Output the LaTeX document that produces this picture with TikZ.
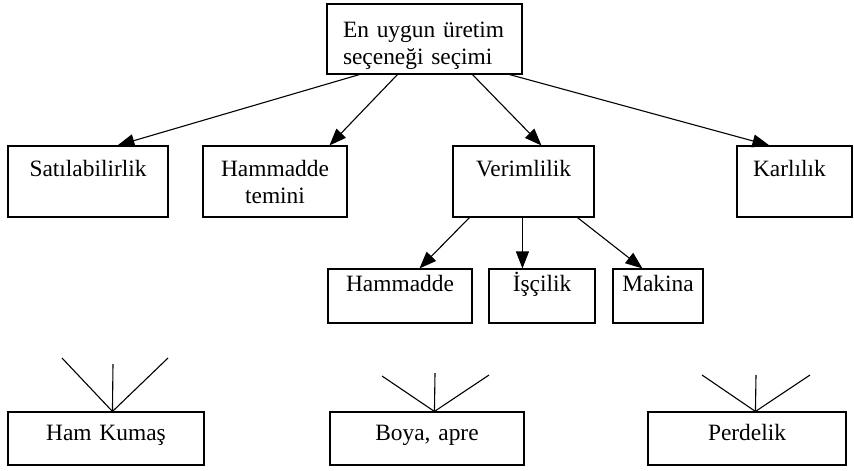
\documentclass[tikz,border=0pt]{standalone}
\usepackage{fontspec}
\setmainfont{Liberation Serif}
\usetikzlibrary{arrows.meta}

\begin{document}
\begin{tikzpicture}[x=1pt,y=1pt]
\tikzstyle{every node}+=[inner sep=0pt, font=\fontsize{23.4}{27.5}\selectfont]
\tikzstyle{kutu}=[draw, black, line width=1.1pt, align=center]
\tikzstyle{ust}=[text height=30pt, text depth=41pt]
\tikzstyle{alt}=[text height=22pt, text depth=32pt]
\tikzstyle{son}=[text height=28pt, text depth=25pt]
\tikzstyle{ok}=[black, line width=1.1pt, -{Triangle[length=17pt,width=13pt]}]
\tikzstyle{cizgi}=[black, line width=1.1pt]
\useasboundingbox (0,0) rectangle (854,-471);
% ana kutu
\node [kutu, align=left, inner xsep=16pt, text width=163pt, text height=33pt, text depth=37pt] (secim) at (424.5,-39) {En uygun üretim\\seçeneği seçimi};
% ikinci sira
\node [kutu, ust, text width=160pt] (sat) at (88,-181.5) {Satılabilirlik};
\node [kutu, ust, text width=144pt] (tem) at (275,-181.5) {Hammadde\\temini};
\node [kutu, ust, text width=141pt] (ver) at (523.5,-181.5) {Verimlilik};
\node [kutu, ust, align=left, inner xsep=16pt, text width=83pt] (kar) at (794.5,-181.5) {Karlılık};
\draw [ok] ([xshift=33pt]secim.south west) -- ([xshift=110pt]sat.north west);
\draw [ok] ([xshift=71pt]secim.south west) -- ([xshift=127pt]tem.north west);
\draw [ok] ([xshift=146pt]secim.south west) -- ([xshift=89pt]ver.north west);
\draw [ok] ([xshift=183pt]secim.south west) -- ([xshift=33pt]kar.north west);
% verimlilik alt kutulari
\node [kutu, alt, text width=144pt] (ham) at (400,-296) {Hammadde};
\node [kutu, alt, text width=106pt] (isc) at (542,-296) {İşçilik};
\node [kutu, alt, text width=90pt] (mak) at (658,-296) {Makina};
\draw [ok] ([xshift=17pt]ver.south west) -- ([xshift=92pt]ham.north west);
\draw [ok] ([xshift=70pt]ver.south west) -- ([xshift=34pt]isc.north west);
\draw [ok] ([xshift=125pt]ver.south west) -- ([xshift=30pt]mak.north west);
% alt sira
\node [kutu, son, text width=196pt] (kum) at (106,-438.5) {Ham Kumaş};
\node [kutu, son, text width=194pt] (boy) at (427,-438.5) {Boya, apre};
\node [kutu, son, text width=198pt] (per) at (747,-438.5) {Perdelik};
\coordinate (kum1) at (62,-358);
\coordinate (kum2) at (113,-364);
\coordinate (kum3) at (168,-358);
\coordinate (boy1) at (382,-376);
\coordinate (boy2) at (435,-373);
\coordinate (boy3) at (489,-375);
\coordinate (per1) at (702,-375);
\coordinate (per2) at (756,-375);
\coordinate (per3) at (810,-375);
\foreach \i in {1,2,3} {
  \draw [cizgi] (kum\i) -- ([xshift=105pt]kum.north west);
  \draw [cizgi] (boy\i) -- ([xshift=105pt]boy.north west);
  \draw [cizgi] (per\i) -- ([xshift=108pt]per.north west);
}
\end{tikzpicture}
\end{document}
